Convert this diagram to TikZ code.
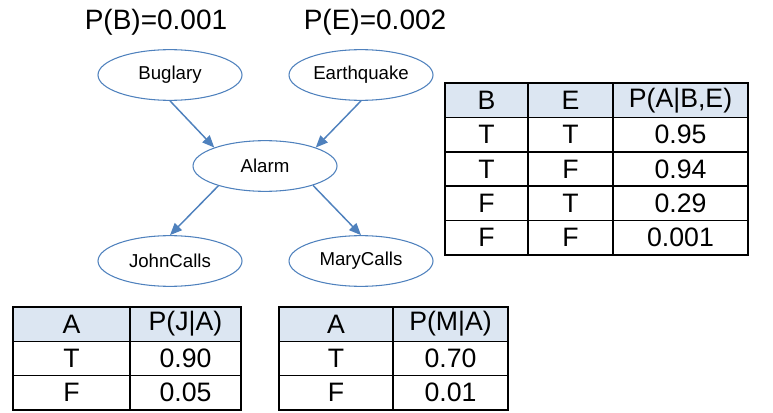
\documentclass[tikz,border=0pt]{standalone}
\usepackage{fontspec}
\setmainfont{Liberation Sans}
\usetikzlibrary{arrows.meta,shapes.geometric}
\definecolor{netblue}{HTML}{4F81BD}
\definecolor{headblue}{HTML}{DCE6F2}
\tikzset{
  var/.style={ellipse, draw=netblue, line width=0.8pt, minimum width=108pt,
    minimum height=38pt, inner sep=0pt, font=\fontsize{14}{16}\selectfont},
  link/.style={draw=netblue, line width=1.1pt, -{Triangle[length=9pt,width=7.5pt]}},
  cell/.style={draw, line width=1.2pt, inner sep=0pt, font=\fontsize{20}{24}\selectfont},
  head/.style={cell, fill=headblue},
  prior/.style={font=\fontsize{21}{25}\selectfont}
}
\begin{document}
\begin{tikzpicture}[x=0.75pt, y=-0.75pt]
  \useasboundingbox (0,0) rectangle (773,413);
  \pgfmathsetmacro{\rh}{34.4}
  \pgfmathsetmacro{\sh}{34.3}
  % network
  \node[prior] (pb) at (156,22) {P(B)=0.001};
  \node[prior] (pe) at (375,22) {P(E)=0.002};
  \node[var] (bug) at (170,75) {Buglary};
  \node[var] (eq) at (361,75) {Earthquake};
  \node[var] (alarm) at (265,166) {Alarm};
  \node[var] (john) at (170,261) {JohnCalls};
  \node[var] (mary) at (361,261) {MaryCalls};
  \draw[link] (bug.south) -- (alarm.160);
  \draw[link] (eq.south) -- (alarm.20);
  \draw[link] (alarm.203) -- (john.north);
  \draw[link] (alarm.-22) -- (mary.north);
  % table of P(A|B,E)
  \node[head, minimum width=83*0.75pt, minimum height=\rh*0.75pt] (abB) at (486.5,{83+\rh/2}) {B};
  \node[head, minimum width=85*0.75pt, minimum height=\rh*0.75pt] (abE) at (570.5,{83+\rh/2}) {E};
  \node[head, minimum width=135*0.75pt, minimum height=\rh*0.75pt] (abP) at (680.5,{83+\rh/2}) {P(A|B,E)};
  \foreach \i/\b/\e/\p in {1/T/T/0.95, 2/T/F/0.94, 3/F/T/0.29, 4/F/F/0.001} {
    \node[cell, minimum width=83*0.75pt, minimum height=\rh*0.75pt] (abB\i) at (486.5,{83+\rh*\i+\rh/2}) {\b};
    \node[cell, minimum width=85*0.75pt, minimum height=\rh*0.75pt] (abE\i) at (570.5,{83+\rh*\i+\rh/2}) {\e};
    \node[cell, minimum width=135*0.75pt, minimum height=\rh*0.75pt] (abP\i) at (680.5,{83+\rh*\i+\rh/2}) {\p};
  }
  % table of P(J|A)
  \node[head, minimum width=117*0.75pt, minimum height=\sh*0.75pt] (jA) at (71.5,{307+\sh/2}) {A};
  \node[head, minimum width=111*0.75pt, minimum height=\sh*0.75pt] (jP) at (185.5,{307+\sh/2}) {P(J|A)};
  % table of P(M|A)
  \node[head, minimum width=114*0.75pt, minimum height=\sh*0.75pt] (mA) at (336,{307+\sh/2}) {A};
  \node[head, minimum width=115*0.75pt, minimum height=\sh*0.75pt] (mP) at (450.5,{307+\sh/2}) {P(M|A)};
  \foreach \i/\a/\j/\m in {1/T/0.90/0.70, 2/F/0.05/0.01} {
    \node[cell, minimum width=117*0.75pt, minimum height=\sh*0.75pt] (jA\i) at (71.5,{307+\sh*\i+\sh/2}) {\a};
    \node[cell, minimum width=111*0.75pt, minimum height=\sh*0.75pt] (jP\i) at (185.5,{307+\sh*\i+\sh/2}) {\j};
    \node[cell, minimum width=114*0.75pt, minimum height=\sh*0.75pt] (mA\i) at (336,{307+\sh*\i+\sh/2}) {\a};
    \node[cell, minimum width=115*0.75pt, minimum height=\sh*0.75pt] (mP\i) at (450.5,{307+\sh*\i+\sh/2}) {\m};
  }
\end{tikzpicture}
\end{document}
